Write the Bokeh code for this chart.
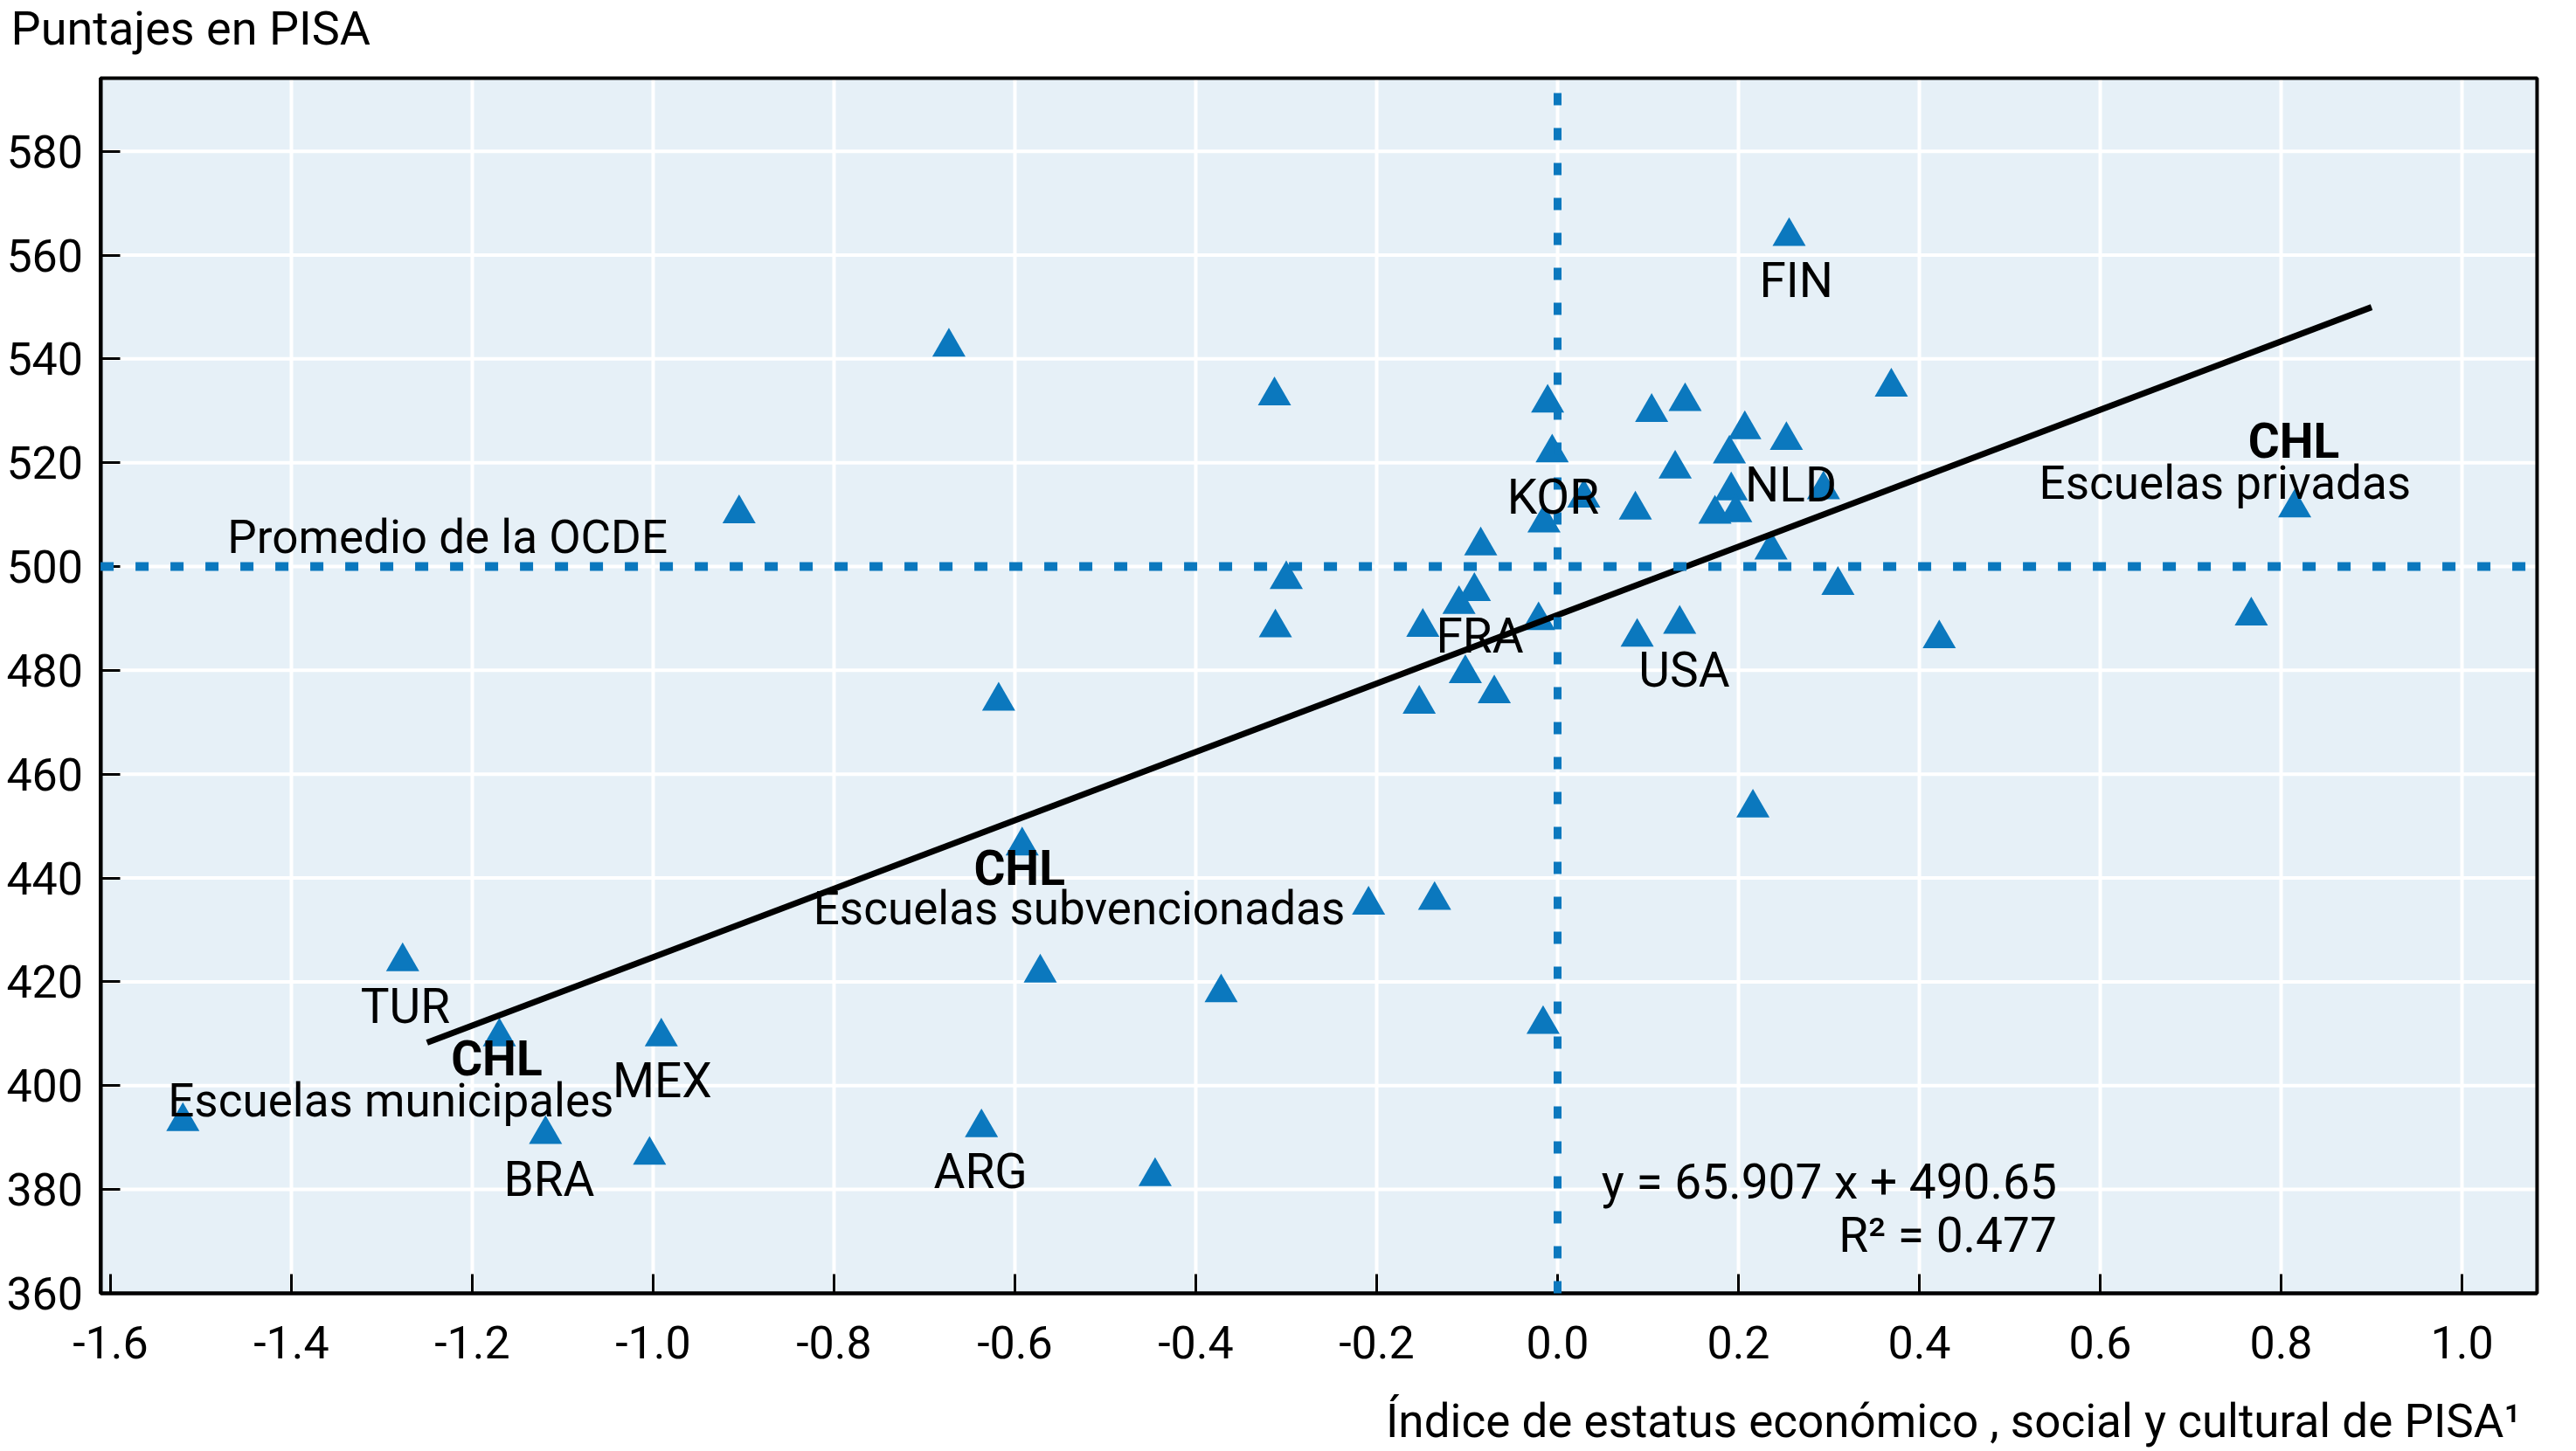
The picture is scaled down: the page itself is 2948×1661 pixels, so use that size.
from bokeh.plotting import figure
from bokeh.models import Range1d, FixedTicker, PrintfTickFormatter, ColumnDataSource
from bokeh.core.properties import value
from bokeh.embed import file_html
from bokeh.resources import INLINE

# ---------------- data ----------------
escs = [-1.520, -1.277, -1.170, -1.119, -0.991, -1.004, -0.905, -0.673, -0.637, -0.618,
        -0.592, -0.572, -0.445, -0.372, -0.313, -0.312, -0.300, -0.209, -0.136, -0.016,
        0.216, 0.767, 0.815, 0.256, -0.011, -0.006, 0.104, 0.141, 0.369, 0.207,
        0.253, 0.190, 0.130, 0.192, 0.294, 0.029, 0.086, 0.174, 0.197, -0.015,
        -0.085, 0.236, 0.310, -0.092, -0.109, -0.149, -0.021, 0.135, 0.088, 0.422,
        -0.102, -0.070, -0.153]
pisa = [393.1, 423.9, 409.4, 390.6, 409.4, 386.6, 510.2, 542.3, 391.9, 474.1,
        446.2, 421.7, 382.5, 417.9, 532.9, 488.2, 497.5, 434.8, 435.7, 411.8,
        453.5, 490.5, 511.3, 563.6, 531.5, 521.9, 529.7, 531.8, 534.6, 526.4,
        524.3, 521.7, 518.8, 514.6, 514.8, 513.2, 510.9, 510.1, 510.4, 508.4,
        504.0, 503.2, 496.4, 495.2, 492.7, 488.3, 489.6, 488.9, 486.4, 486.1,
        479.4, 475.5, 473.5]

trend_slope = 65.907
trend_intercept = 490.65
trend_x = [-1.25, 0.90]
oecd_mean = 500
escs_ref = 0.0

country_labels = ["FIN", "NLD", "KOR", "FRA", "USA", "TUR", "MEX", "BRA", "ARG"]
country_lx = [0.264, 0.258, -0.005, -0.086, 0.140, -1.274, -0.990, -1.115, -0.638]
country_ly = [555.2, 515.8, 513.3, 486.7, 480.1, 415.3, 400.9, 382.0, 383.4]

chl_labels = ["CHL", "CHL", "CHL"]
chl_lx = [0.814, -0.595, -1.173]
chl_ly = [524.1, 441.9, 405.1]

school_labels = ["Escuelas privadas", "Escuelas subvencionadas", "Escuelas municipales"]
school_lx = [0.738, -0.529, -1.290]
school_ly = [516.0, 434.2, 397.1]

x_ticks = [-1.6, -1.4, -1.2, -1.0, -0.8, -0.6, -0.4, -0.2, 0.0, 0.2, 0.4, 0.6, 0.8, 1.0]
y_ticks = [360, 380, 400, 420, 440, 460, 480, 500, 520, 540, 560, 580]

y_title = "Puntajes en PISA"
x_title = "Índice de estatus económico , social y cultural de PISA¹"
oecd_text = "Promedio  de la OCDE"
eq_text = "y = 65.907 x + 490.65"
r2_text = "R² = 0.477"

# ---------------- layout constants ----------------
PLOT_X = (-1.611, 1.083)      # plotting area extents (data units)
PLOT_Y = (360.0, 594.1)
VIEW_X = (-1.7217, 1.1188)    # whole canvas extents
VIEW_Y = (329.52, 609.06)

BLUE = "#0B78BE"
BG = "#E6F0F7"
FONT = value("Roboto")

p = figure(width=2940, height=1661, output_backend="svg", toolbar_location=None,
           x_range=Range1d(*VIEW_X), y_range=Range1d(*VIEW_Y), min_border=0)
p.background_fill_color = "white"
p.border_fill_color = "white"
p.outline_line_color = None
p.xgrid.visible = False
p.ygrid.visible = False

# plot area background
p.quad(left=[PLOT_X[0]], right=[PLOT_X[1]], bottom=[PLOT_Y[0]], top=[PLOT_Y[1]],
       fill_color=BG, line_color=None, level="image")

# grid lines
gx = [t for t in x_ticks if PLOT_X[0] + 0.05 < t < PLOT_X[1]]
gy = [t for t in y_ticks if PLOT_Y[0] < t < PLOT_Y[1]]
p.segment(x0=gx, y0=[PLOT_Y[0]] * len(gx), x1=gx, y1=[PLOT_Y[1]] * len(gx),
          line_color="white", line_width=4, level="underlay")
p.segment(x0=[PLOT_X[0]] * len(gy), y0=gy, x1=[PLOT_X[1]] * len(gy), y1=gy,
          line_color="white", line_width=4, level="underlay")

# axes
p.xaxis.ticker = FixedTicker(ticks=x_ticks)
p.yaxis.ticker = FixedTicker(ticks=y_ticks)
p.xaxis.formatter = PrintfTickFormatter(format="%.1f")
p.xaxis.fixed_location = PLOT_Y[0]
p.yaxis.fixed_location = PLOT_X[0]
p.xaxis.bounds = PLOT_X
p.yaxis.bounds = PLOT_Y
for ax in (p.xaxis, p.yaxis):
    ax.axis_line_color = "black"
    ax.axis_line_width = 4
    ax.major_tick_in = 22
    ax.major_tick_out = 0
    ax.major_tick_line_width = 3
    ax.major_tick_line_color = "black"
    ax.minor_tick_line_color = None
    ax.major_label_text_font = "Roboto"
    ax.major_label_text_font_size = "52px"
    ax.major_label_text_color = "black"
p.yaxis.major_label_standoff = 20
p.xaxis.major_label_standoff = 38

# outline of plotting area
p.quad(left=[PLOT_X[0]], right=[PLOT_X[1]], bottom=[PLOT_Y[0]], top=[PLOT_Y[1]],
       fill_color=None, line_color="black", line_width=4, level="guide")

# points
p.scatter(escs, pisa, marker="triangle", size=38, fill_color=BLUE, line_color=BLUE, line_width=0)

# trend line
trend_y = [trend_slope * x + trend_intercept for x in trend_x]
p.line(trend_x, trend_y, line_color="black", line_width=7)

# reference lines
p.line([PLOT_X[0], PLOT_X[1]], [oecd_mean, oecd_mean], line_color=BLUE,
       line_width=10, line_dash="15 25", level="annotation")
p.line([escs_ref, escs_ref], [PLOT_Y[0], PLOT_Y[1]], line_color=BLUE,
       line_width=9, line_dash="14 26", level="annotation")

# labels
src_c = ColumnDataSource(dict(x=country_lx, y=country_ly, t=country_labels))
p.text("x", "y", text="t", source=src_c, text_font=FONT, text_font_size="55px",
       text_align="center", text_baseline="middle", text_color="black", level="overlay")
src_chl = ColumnDataSource(dict(x=chl_lx, y=chl_ly, t=chl_labels))
p.text("x", "y", text="t", source=src_chl, text_font=FONT, text_font_size="55px",
       text_font_style="bold", text_align="center", text_baseline="middle",
       text_color="black", level="overlay")
src_s = ColumnDataSource(dict(x=school_lx, y=school_ly, t=school_labels))
p.text("x", "y", text="t", source=src_s, text_font=FONT, text_font_size="53px",
       text_align="center", text_baseline="middle", text_color="black", level="overlay")

p.text(x=[-1.221], y=[505.6], text=[oecd_text], text_font=FONT, text_font_size="53px",
       text_align="center", text_baseline="middle", text_color="black", level="overlay")
p.text(x=[0.552, 0.552], y=[381.5, 371.2], text=[eq_text, r2_text], text_font=FONT,
       text_font_size="55px", text_align="right", text_baseline="middle",
       text_color="black", level="overlay")

# axis titles
p.text(x=[-1.710], y=[603.7], text=[y_title], text_font=FONT, text_font_size="54px",
       text_align="left", text_baseline="middle", text_color="black", level="overlay")
p.text(x=[1.065], y=[335.3], text=[x_title], text_font=FONT, text_font_size="53px",
       text_align="right", text_baseline="middle", text_color="black", level="overlay")

open("out.html", "w").write(file_html(p, INLINE))
